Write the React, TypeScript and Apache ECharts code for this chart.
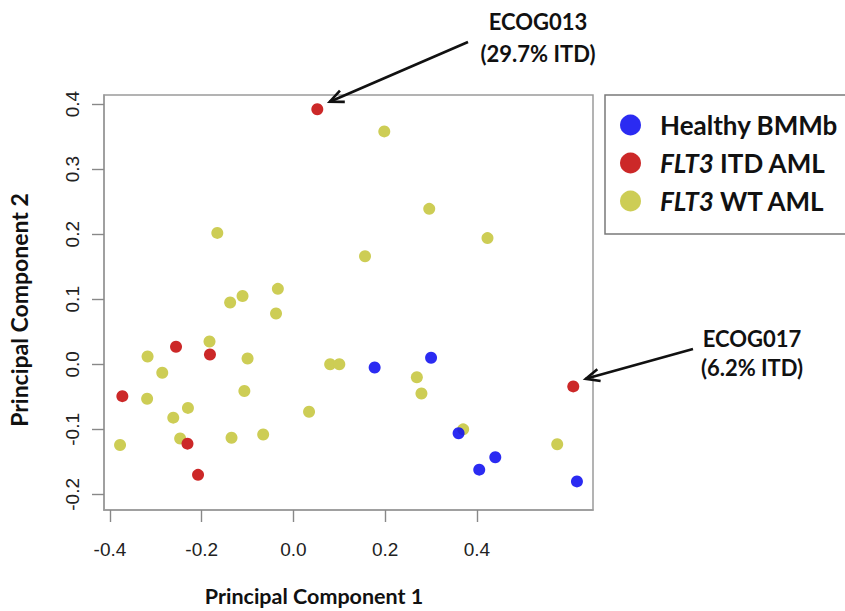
import React, { useEffect, useRef } from "react";
import * as echarts from "echarts";

// PCA scores [PC1, PC2]
const healthyBMMb: number[][] = [
  [0.177, -0.005], [0.300, 0.010], [0.360, -0.106], [0.405, -0.162], [0.440, -0.143], [0.618, -0.180],
];
const flt3ITD: number[][] = [
  [0.052, 0.392], [-0.256, 0.027], [-0.182, 0.015], [-0.373, -0.049], [-0.231, -0.122], [-0.208, -0.170], [0.610, -0.034],
];
const flt3WT: number[][] = [
  [-0.166, 0.202], [-0.138, 0.095], [-0.111, 0.105], [-0.034, 0.116], [-0.038, 0.078], [-0.183, 0.035],
  [-0.318, 0.012], [-0.100, 0.009], [-0.286, -0.013], [-0.107, -0.041], [-0.319, -0.053], [-0.230, -0.067],
  [-0.262, -0.082], [-0.247, -0.114], [-0.135, -0.113], [-0.066, -0.108], [-0.378, -0.124], [0.198, 0.358],
  [0.296, 0.239], [0.423, 0.194], [0.156, 0.166], [0.080, 0.000], [0.100, 0.000], [0.269, -0.020],
  [0.279, -0.045], [0.034, -0.073], [0.370, -0.100], [0.575, -0.123],
];
const xTicks = [-0.4, -0.2, 0.0, 0.2, 0.4];
const yTicks = [-0.2, -0.1, 0.0, 0.1, 0.2, 0.3, 0.4];
const seriesNames = ["Healthy BMMb", "FLT3 ITD AML", "FLT3 WT AML"];
const annotations = [
  { lines: ["ECOG013", "(29.7% ITD)"], point: flt3ITD[0] },
  { lines: ["ECOG017", "(6.2% ITD)"], point: flt3ITD[6] },
];

const LABEL_FONT = "Lato";

export default function App() {
  const ref = useRef<HTMLDivElement>(null);
  useEffect(() => {
    if (!ref.current) return;
    const chart = echarts.init(ref.current, null, { renderer: "svg" });
    const tickFont = "'Liberation Sans', Arial, Helvetica, sans-serif";
    const axisLineStyle = { color: "#9a9a9a", width: 1.5 };
    chart.setOption({
      animation: false,
      backgroundColor: "#ffffff",
      grid: {
        left: 104, top: 95, width: 489, height: 415,
        show: true, borderColor: "#9a9a9a", borderWidth: 1.5, backgroundColor: "transparent",
      },
      xAxis: {
        type: "value", min: -0.413, max: 0.653,
        axisLine: { show: true, onZero: false, lineStyle: axisLineStyle },
        splitLine: { show: false },
        axisTick: { show: true, customValues: xTicks, length: 12, lineStyle: { color: "#888", width: 1.4 } },
        axisLabel: {
          customValues: xTicks, margin: 30, fontSize: 19, color: "#222",
          fontFamily: tickFont, formatter: (v: number) => v.toFixed(1),
        },
      },
      yAxis: {
        type: "value", min: -0.224, max: 0.414,
        axisLine: { show: true, onZero: false, lineStyle: axisLineStyle },
        splitLine: { show: false },
        axisTick: { show: true, customValues: yTicks, length: 12, lineStyle: { color: "#888", width: 1.4 } },
        axisLabel: {
          customValues: yTicks, margin: 22, fontSize: 19, color: "#222", rotate: 90,
          fontFamily: tickFont, formatter: (v: number) => v.toFixed(1),
        },
      },
      legend: {
        orient: "vertical", left: 605, top: 95,
        data: seriesNames,
        icon: "circle", itemWidth: 21, itemHeight: 21, itemGap: 12,
        padding: [17, 12, 20, 15],
        borderColor: "#7a7a7a", borderWidth: 1.5,
        formatter: (name: string) => (name.startsWith("FLT3") ? "{i|FLT3}" + name.slice(4) : name),
        textStyle: {
          fontFamily: LABEL_FONT, fontWeight: "bold", fontSize: 26, color: "#111", lineHeight: 25,
          padding: [0, 0, 0, 14],
          rich: { i: { fontFamily: LABEL_FONT, fontWeight: "bold", fontStyle: "italic", fontSize: 26, color: "#111", lineHeight: 25 } },
        },
      },
      series: [
        {
          name: seriesNames[2], type: "scatter", data: flt3WT, symbolSize: 12,
          itemStyle: { color: "#cdcd55", opacity: 1 },
        },
        {
          name: seriesNames[0], type: "scatter", data: healthyBMMb, symbolSize: 12,
          itemStyle: { color: "#0e0ef0", opacity: 0.88 },
        },
        {
          name: seriesNames[1], type: "scatter", data: flt3ITD, symbolSize: 12,
          itemStyle: { color: "#cc2828", opacity: 1 },
        },
      ],
    });

    const titleStyle = { fontFamily: LABEL_FONT, fontWeight: "bold", fontSize: 23, fill: "#111" };
    const textPos = [
      { x: 538, y1: 21, y2: 53, from: [468, 42] },
      { x: 752, y1: 338, y2: 367, from: [693, 349] },
    ];
    const graphics: any[] = [
      {
        type: "text", x: 314, y: 596,
        style: { ...titleStyle, fontSize: 21.5, text: "Principal Component 1", align: "center", verticalAlign: "middle" },
      },
      {
        type: "text", x: 19, y: 310, rotation: Math.PI / 2,
        style: { ...titleStyle, text: "Principal Component 2", align: "center", verticalAlign: "middle" },
      },
    ];
    annotations.forEach((a, i) => {
      const p = textPos[i];
      graphics.push({
        type: "text", x: p.x, y: p.y1,
        style: { ...titleStyle, fontSize: 22, text: a.lines[0], align: "center", verticalAlign: "middle" },
      });
      graphics.push({
        type: "text", x: p.x, y: p.y2,
        style: { ...titleStyle, fontSize: 22, text: a.lines[1], align: "center", verticalAlign: "middle" },
      });
      const pt = chart.convertToPixel({ gridIndex: 0 }, a.point) as number[];
      const tip = [pt[0] + 12.5, pt[1] - 7.6];
      const from = p.from;
      const dx = from[0] - tip[0], dy = from[1] - tip[1];
      const L = Math.hypot(dx, dy);
      const ux = dx / L, uy = dy / L;
      const ang = 0.42, len = 15;
      const rot = (s: number) => [
        tip[0] + len * (ux * Math.cos(s) - uy * Math.sin(s)),
        tip[1] + len * (ux * Math.sin(s) + uy * Math.cos(s)),
      ];
      graphics.push({
        type: "line",
        shape: { x1: from[0], y1: from[1], x2: tip[0], y2: tip[1] },
        style: { stroke: "#111", lineWidth: 2.6 },
      });
      graphics.push({
        type: "polyline",
        shape: { points: [rot(ang), tip, rot(-ang)] },
        style: { stroke: "#111", lineWidth: 2.6, fill: null, lineJoin: "miter" },
      });
    });
    chart.setOption({ graphic: graphics });
    return () => chart.dispose();
  }, []);
  return <div ref={ref} style={{ position: "fixed", left: 0, top: 0, width: 845, height: 611 }} />;
}
